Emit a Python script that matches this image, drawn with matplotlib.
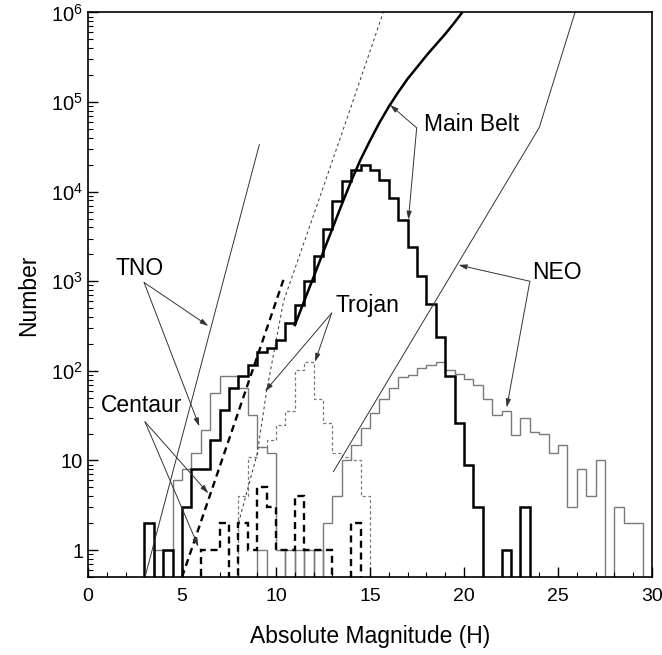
import numpy as np
import matplotlib
matplotlib.use("Agg")
import matplotlib.pyplot as plt

plt.rcParams['font.family'] = ['Liberation Sans', 'DejaVu Sans']
plt.rcParams['mathtext.fontset'] = 'custom'
plt.rcParams['mathtext.rm'] = 'Liberation Sans'
plt.rcParams['mathtext.it'] = 'Liberation Sans'

# ---------------- data (counts per 0.5 mag bin, bins start at 0.0) ----------------
bin_edges = np.arange(0.0, 30.01, 0.5)

main_belt_counts = [0, 0, 0, 0, 0, 0, 2, 0, 1, 0,            # 0.0 - 4.5
                    3, 8, 8, 17, 37, 64, 88, 117, 162, 182,  # 5.0 - 9.5
                    223, 341, 546, 995, 1890, 3850, 7800, 13000, 17600, 19600,  # 10 - 14.5
                    17600, 13400, 8500, 4860, 2400, 1150, 560, 238, 88, 26,    # 15 - 19.5
                    9, 3, 0, 0, 1, 0, 3, 0, 0, 0,             # 20 - 24.5
                    0, 0, 0, 0, 0, 0, 0, 0, 0, 0]             # 25 - 29.5

tno_counts = [0, 0, 0, 0, 0, 0, 0, 1, 1, 6,
              8, 12, 22, 57, 88, 88, 64, 32, 14, 12,
              1, 0, 1, 0, 1, 0, 0, 0, 0, 0,
              0, 0, 0, 0, 0, 0, 0, 0, 0, 0,
              0, 0, 0, 0, 0, 0, 0, 0, 0, 0,
              0, 0, 0, 0, 0, 0, 0, 0, 0, 0]

centaur_counts = [0, 0, 0, 0, 0, 0, 0, 0, 0, 0,
                  0, 0, 1, 1, 2, 0, 2, 1, 5, 3,
                  1, 1, 4, 1, 1, 1, 0, 0, 2, 0,
                  0, 0, 0, 0, 0, 0, 0, 0, 0, 0,
                  0, 0, 0, 0, 0, 0, 0, 0, 0, 0,
                  0, 0, 0, 0, 0, 0, 0, 0, 0, 0]

trojan_counts = [0, 0, 0, 0, 0, 0, 0, 0, 0, 0,
                 0, 0, 0, 0, 0, 0, 4, 11, 14, 17,
                 25, 36, 102, 125, 49, 26, 12, 11, 10, 4,
                 0, 0, 0, 0, 0, 0, 0, 0, 0, 0,
                 0, 0, 0, 0, 0, 0, 0, 0, 0, 0,
                 0, 0, 0, 0, 0, 0, 0, 0, 0, 0]

neo_counts = [0, 0, 0, 0, 0, 0, 0, 0, 0, 0,
              0, 0, 0, 0, 0, 0, 0, 0, 1, 0,
              0, 1, 0, 1, 0, 2, 4, 10, 15, 23,
              34, 48, 64, 85, 90, 107, 117, 125, 102, 93,
              81, 70, 49, 32, 36, 19, 30, 21, 20, 12,
              15, 3, 8, 4, 10, 0, 3, 2, 2, 0]

# cumulative / model curves (H, N)
mb_curve_H = [11.0, 11.5, 12.0, 12.5, 13.0, 13.5, 14.0, 14.5, 15.0, 15.5, 16.0,
              16.5, 17.0, 17.5, 18.0, 18.5, 19.0, 19.5, 19.9]
mb_curve_N = [324, 603, 1120, 2090, 3890, 7240, 13200, 22900, 37200, 58900, 89100,
              129000, 182000, 245000, 331000, 437000, 575000, 776000, 1000000]

centaur_line_H = [5.0, 10.4]
centaur_line_N = [0.5, 1050]

tno_line_H = [3.03, 9.11]
tno_line_N = [0.5, 33500]

trojan_line_H = [8.0, 9.0, 9.5, 10.4, 12.0, 14.0, 15.7]
trojan_line_N = [2, 12, 60, 600, 5500, 90000, 1000000]

neo_line_H = [13.05, 24.0, 25.9]
neo_line_N = [7.5, 52000, 1000000]

ytick_vals = [1, 10, 100, 1000, 10000, 100000, 1000000]
ytick_labels = ['1', '10', r'$\mathdefault{10^2}$', r'$\mathdefault{10^3}$',
                r'$\mathdefault{10^4}$', r'$\mathdefault{10^5}$', r'$\mathdefault{10^6}$']
xtick_vals = [0, 5, 10, 15, 20, 25, 30]

# ---------------- figure ----------------
fig = plt.figure(figsize=(6.62, 6.55), dpi=100)
ax = fig.add_axes([0.133, 0.119, 0.852, 0.862])
ax.set_yscale('log')
ax.set_xlim(0, 30)
ax.set_ylim(0.5, 1e6)

FLOOR = 0.1


def stairs(counts, **kw):
    c = np.asarray(counts, dtype=float)
    c = np.where(c > 0, c, FLOOR)
    ax.stairs(c, bin_edges, baseline=None, **kw)


gray = '#7a7a7a'
stairs(tno_counts, color=gray, lw=1.0)
stairs(neo_counts, color=gray, lw=1.0)
stairs(trojan_counts, color=gray, lw=0.9, ls=(0, (2.5, 2)))
stairs(centaur_counts, color='black', lw=1.7, ls=(0, (3, 2)))
stairs(main_belt_counts, color='black', lw=1.8)

ax.plot(mb_curve_H, mb_curve_N, color='black', lw=1.8)
ax.plot(centaur_line_H, centaur_line_N, color='black', lw=1.7, ls=(0, (3, 2)))
ax.plot(tno_line_H, tno_line_N, color='#333333', lw=0.7)
ax.plot(trojan_line_H, trojan_line_N, color='#333333', lw=0.7, ls=(0, (3, 3)))
ax.plot(neo_line_H, neo_line_N, color='#333333', lw=0.7)

# ---------------- annotations ----------------
fs = 16.5
arrow_kw = dict(arrowstyle='-|>,head_length=0.5,head_width=0.15', color='#333333', lw=0.7,
                shrinkA=0, shrinkB=0)


def label(text, tx, ty, vx, vy, targets, ha='left'):
    ax.text(tx, ty, text, fontsize=fs, ha=ha, va='center')
    for (x, y) in targets:
        ax.annotate('', xy=(x, y), xytext=(vx, vy), arrowprops=arrow_kw)


label('Main Belt', 17.85, 5.6e4, 17.48, 5.15e4, [(16.06, 9.3e4), (17.04, 4860)])
label('NEO', 23.6, 1250, 23.5, 1000, [(19.7, 1520), (22.27, 39)])
label('TNO', 2.77, 1400, 2.98, 970, [(6.4, 317), (5.92, 24)], ha='center')
label('Centaur', 2.85, 41, 3.03, 27, [(6.4, 4.3), (5.87, 1.09)], ha='center')
label('Trojan', 13.15, 530, 12.96, 442, [(9.41, 59), (12.07, 126)])

# ---------------- axes styling ----------------
ax.set_yticks(ytick_vals)
ax.set_yticklabels(ytick_labels)
ax.set_xticks(xtick_vals)
ax.set_xticks(np.arange(0, 31, 1), minor=True)
ax.yaxis.set_minor_locator(matplotlib.ticker.LogLocator(base=10, subs=np.arange(2, 10)))
ax.yaxis.set_minor_formatter(matplotlib.ticker.NullFormatter())
ax.tick_params(which='major', direction='in', length=7, width=1.0, labelsize=14.5,
               top=False, right=False)
ax.tick_params(which='minor', direction='in', length=3.5, width=0.8, top=False, right=False)
ax.tick_params(axis='x', which='major', pad=8, labelsize=14)
for s in ax.spines.values():
    s.set_linewidth(1.2)

ax.set_xlabel('Absolute Magnitude (H)', fontsize=16.5, labelpad=14)
ax.set_ylabel('Number', fontsize=16.5, labelpad=8)

fig.savefig('out.png', dpi=100)
